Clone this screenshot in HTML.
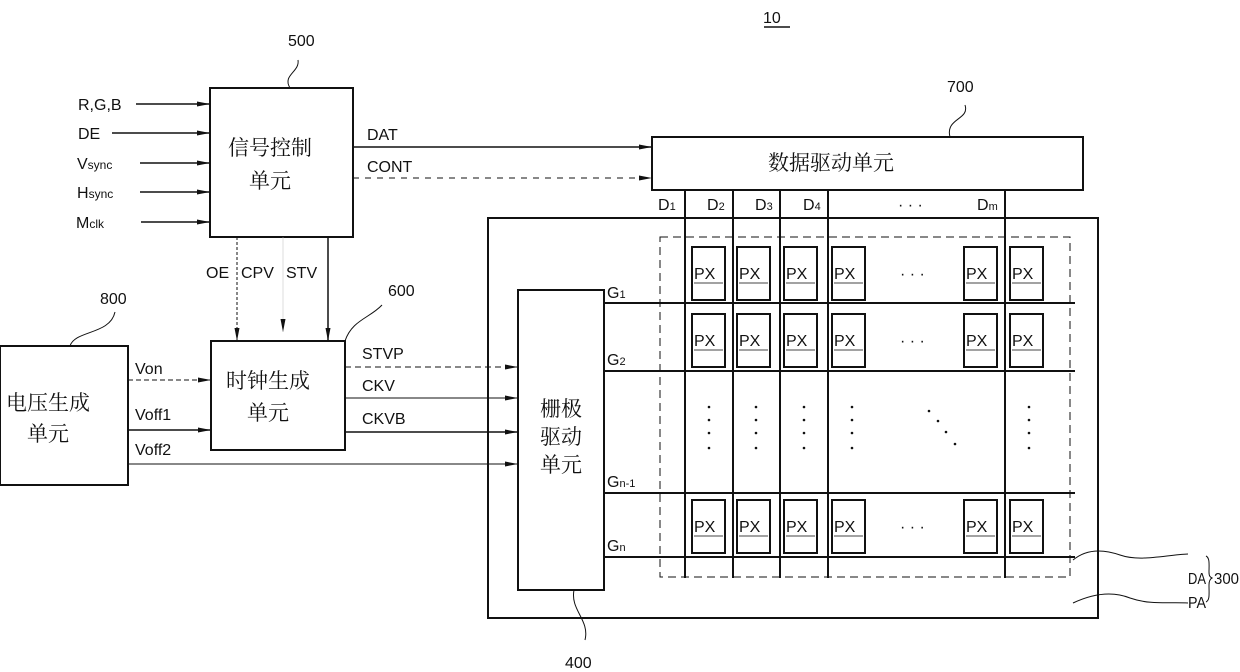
<!DOCTYPE html>
<html><head><meta charset="utf-8"><style>
html,body{margin:0;padding:0;background:#fff}
svg{display:block}
text{font-family:"Liberation Sans",Arial,sans-serif;font-size:16px;fill:#111}
.cjk{font-family:"Noto Serif CJK SC","Noto Sans CJK SC",serif;font-size:21px}
</style></head><body>
<svg width="1240" height="672" viewBox="0 0 1240 672" xmlns="http://www.w3.org/2000/svg">
<defs><marker id="a" markerWidth="14" markerHeight="8" refX="13" refY="4" orient="auto" markerUnits="userSpaceOnUse"><path d="M0,1.5 L13,4 L0,6.5 Z" fill="#111"/></marker></defs>
<g stroke="#111" fill="none" stroke-width="1.5">
<rect x="210" y="88" width="143" height="149" stroke-width="2"/>
<line x1="136" y1="104" x2="210" y2="104" marker-end="url(#a)"/>
<line x1="112" y1="133" x2="210" y2="133" marker-end="url(#a)"/>
<line x1="140" y1="163" x2="210" y2="163" marker-end="url(#a)"/>
<line x1="140" y1="192" x2="210" y2="192" marker-end="url(#a)"/>
<line x1="141" y1="222" x2="210" y2="222" marker-end="url(#a)"/>
<path d="M298,60 C300,72 282,75 290,88" stroke-width="1"/>
<line x1="353" y1="147" x2="652" y2="147" marker-end="url(#a)"/>
<line x1="353" y1="178" x2="652" y2="178" stroke-dasharray="6,6" stroke-width="1" marker-end="url(#a)"/>
<rect x="652" y="137" width="431" height="53" stroke-width="2"/>
<path d="M965,105 C970,120 945,118 950,137" stroke-width="1"/>
<rect x="488" y="218" width="610" height="400" stroke-width="2"/>
<rect x="660" y="237" width="410" height="340" stroke-dasharray="8,5" stroke-width="1"/>
<line x1="685" y1="190" x2="685" y2="578" stroke-width="2"/>
<line x1="733" y1="190" x2="733" y2="578" stroke-width="2"/>
<line x1="780" y1="190" x2="780" y2="578" stroke-width="2"/>
<line x1="828" y1="190" x2="828" y2="578" stroke-width="2"/>
<line x1="1005" y1="190" x2="1005" y2="578" stroke-width="2"/>
<line x1="604" y1="303" x2="1075" y2="303" stroke-width="2"/>
<line x1="604" y1="371" x2="1075" y2="371" stroke-width="2"/>
<line x1="604" y1="493" x2="1075" y2="493" stroke-width="2"/>
<line x1="604" y1="557" x2="1075" y2="557" stroke-width="2"/>
<rect x="518" y="290" width="86" height="300" stroke-width="2"/>
<path d="M574,590 C570,610 590,620 585,640" stroke-width="1"/>
<rect x="211" y="341" width="134" height="109" stroke-width="2"/>
<line x1="237" y1="237" x2="237" y2="341" stroke-width="1" stroke-dasharray="3,2" marker-end="url(#a)"/>
<line x1="283" y1="237" x2="283" y2="332" stroke-width="0.5" stroke="#bbb"/>
<line x1="283" y1="318" x2="283" y2="332" stroke-width="0" marker-end="url(#a)"/>
<line x1="328" y1="237" x2="328" y2="341" marker-end="url(#a)"/>
<path d="M345,341 C352,320 370,318 382,305" stroke-width="1"/>
<line x1="345" y1="367" x2="518" y2="367" stroke-dasharray="6,4" stroke-width="1" marker-end="url(#a)"/>
<line x1="345" y1="398" x2="518" y2="398" stroke-width="1" marker-end="url(#a)"/>
<line x1="345" y1="432" x2="518" y2="432" marker-end="url(#a)"/>
<rect x="0" y="346" width="128" height="139" stroke-width="2"/>
<path d="M70,346 C75,330 110,335 115,312" stroke-width="1"/>
<line x1="128" y1="380" x2="211" y2="380" stroke-dasharray="5,3" stroke-width="1" marker-end="url(#a)"/>
<line x1="128" y1="430" x2="211" y2="430" marker-end="url(#a)"/>
<line x1="128" y1="464" x2="518" y2="464" stroke-width="1" marker-end="url(#a)"/>
<path d="M1073,560 C1085,550 1100,548 1120,555 C1140,562 1165,555 1188,554" stroke-width="1"/>
<path d="M1073,603 C1090,595 1110,590 1130,598 C1150,605 1168,602 1188,603" stroke-width="1"/>
<path d="M1206,556 C1210,558 1209,565 1209,572 C1209,576 1210,577 1212,578 C1210,579 1209,581 1209,585 C1209,594 1210,600 1206,602" stroke-width="1"/>
<line x1="764" y1="27" x2="790" y2="27" stroke-width="1.5"/>
</g>
<g stroke="#111" fill="#fff" stroke-width="2">
<g id="row">
<rect x="692" y="247" width="33" height="53"/><rect x="737" y="247" width="33" height="53"/><rect x="784" y="247" width="33" height="53"/><rect x="832" y="247" width="33" height="53"/><rect x="964" y="247" width="33" height="53"/><rect x="1010" y="247" width="33" height="53"/>
</g>
<use href="#row" y="67"/>
<use href="#row" y="253"/>
</g>
<g stroke="#444" stroke-width="1">
<g id="ul"><line x1="694" y1="283" x2="723" y2="283"/><line x1="739" y1="283" x2="768" y2="283"/><line x1="786" y1="283" x2="815" y2="283"/><line x1="834" y1="283" x2="863" y2="283"/><line x1="966" y1="283" x2="995" y2="283"/><line x1="1012" y1="283" x2="1041" y2="283"/></g>
<use href="#ul" y="67"/><use href="#ul" y="253"/>
</g>
<g font-size="17">
<g id="pxt"><text x="694" y="279">PX</text><text x="739" y="279">PX</text><text x="786" y="279">PX</text><text x="834" y="279">PX</text><text x="966" y="279">PX</text><text x="1012" y="279">PX</text><text x="900" y="279">· · ·</text></g>
<use href="#pxt" y="67"/><use href="#pxt" y="253"/>
</g>
<g fill="#111">
<circle cx="709" cy="407" r="1.3"/><circle cx="709" cy="420" r="1.3"/><circle cx="709" cy="433" r="1.3"/><circle cx="709" cy="448" r="1.3"/>
<circle cx="756" cy="407" r="1.3"/><circle cx="756" cy="420" r="1.3"/><circle cx="756" cy="433" r="1.3"/><circle cx="756" cy="448" r="1.3"/>
<circle cx="804" cy="407" r="1.3"/><circle cx="804" cy="420" r="1.3"/><circle cx="804" cy="433" r="1.3"/><circle cx="804" cy="448" r="1.3"/>
<circle cx="852" cy="407" r="1.3"/><circle cx="852" cy="420" r="1.3"/><circle cx="852" cy="433" r="1.3"/><circle cx="852" cy="448" r="1.3"/>
<circle cx="1029" cy="407" r="1.3"/><circle cx="1029" cy="420" r="1.3"/><circle cx="1029" cy="433" r="1.3"/><circle cx="1029" cy="448" r="1.3"/>
<circle cx="929" cy="411" r="1.3"/><circle cx="938" cy="421" r="1.3"/><circle cx="946" cy="432" r="1.3"/><circle cx="955" cy="444" r="1.3"/>
</g>
<text x="763" y="23" font-size="17">10</text>
<text x="288" y="46" font-size="17">500</text>
<text x="947" y="92" font-size="17">700</text>
<text x="388" y="296" font-size="17">600</text>
<text x="100" y="304" font-size="17">800</text>
<text x="565" y="668" font-size="17">400</text>
<text x="78" y="110">R,G,B</text>
<text x="78" y="139">DE</text>
<text x="77" y="169">V<tspan font-size="12">sync</tspan></text>
<text x="77" y="198">H<tspan font-size="12">sync</tspan></text>
<text x="76" y="228">M<tspan font-size="12">clk</tspan></text>
<text x="367" y="140">DAT</text>
<text x="367" y="172">CONT</text>
<text x="206" y="278">OE</text><text x="241" y="278">CPV</text><text x="286" y="278">STV</text>
<text x="362" y="359">STVP</text><text x="362" y="391">CKV</text><text x="362" y="424">CKVB</text>
<text x="135" y="374">Von</text><text x="135" y="420">Voff1</text><text x="135" y="455">Voff2</text>
<text x="658" y="210">D<tspan font-size="11">1</tspan></text>
<text x="707" y="210">D<tspan font-size="11">2</tspan></text>
<text x="755" y="210">D<tspan font-size="11">3</tspan></text>
<text x="803" y="210">D<tspan font-size="11">4</tspan></text>
<text x="898" y="210">· · ·</text>
<text x="977" y="210">D<tspan font-size="11">m</tspan></text>
<text x="607" y="298">G<tspan font-size="11">1</tspan></text>
<text x="607" y="365">G<tspan font-size="11">2</tspan></text>
<text x="607" y="487">G<tspan font-size="11">n-1</tspan></text>
<text x="607" y="551">G<tspan font-size="11">n</tspan></text>
<text x="1188" y="584" textLength="18" lengthAdjust="spacingAndGlyphs">DA</text><text x="1188" y="608" textLength="18" lengthAdjust="spacingAndGlyphs">PA</text><text x="1214" y="584" textLength="25" lengthAdjust="spacingAndGlyphs">300</text>
<text class="cjk" x="228" y="155">信号控制</text><text class="cjk" x="249" y="188">单元</text>
<text class="cjk" x="768" y="170">数据驱动单元</text>
<text class="cjk" x="226" y="388">时钟生成</text><text class="cjk" x="247" y="420">单元</text>
<text class="cjk" x="6" y="410">电压生成</text><text class="cjk" x="27" y="441">单元</text>
<text class="cjk" x="540" y="416">栅极</text><text class="cjk" x="540" y="444">驱动</text><text class="cjk" x="540" y="472">单元</text>
</svg>
</body></html>
